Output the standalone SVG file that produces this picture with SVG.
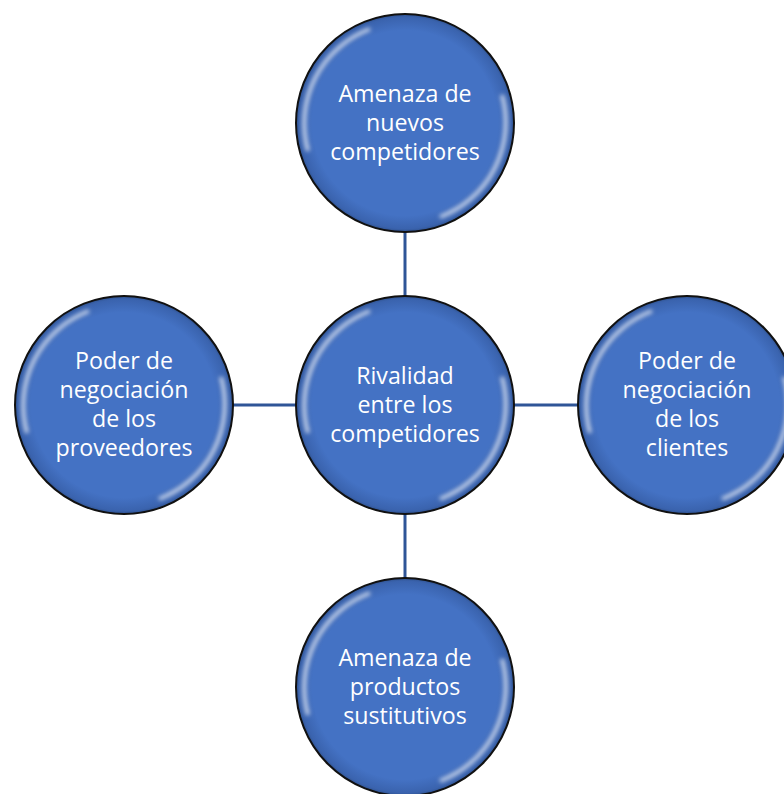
<svg xmlns="http://www.w3.org/2000/svg" width="784" height="794" viewBox="0 0 784 794">
<defs>
<radialGradient id="g" cx="50%" cy="50%" r="50%">
<stop offset="0" stop-color="#4472C4"/>
<stop offset="0.85" stop-color="#4472C4"/>
<stop offset="0.97" stop-color="#3A63AE"/>
<stop offset="1" stop-color="#2F528F"/>
</radialGradient>
<filter id="b" x="-20%" y="-20%" width="140%" height="140%"><feGaussianBlur stdDeviation="2"/></filter>
<g id="bubble">
<circle r="109" fill="url(#g)" stroke="#111" stroke-width="2"/>
<path d="M -97 28 A 101 101 0 0 1 -35 -94" fill="none" stroke="#fff" stroke-opacity="0.7" stroke-width="4" filter="url(#b)"/>
<path d="M 97 -28 A 101 101 0 0 1 35 94" fill="none" stroke="#fff" stroke-opacity="0.7" stroke-width="4" filter="url(#b)"/>
</g>
</defs>
<style>
.t{font-family:"Open Sans","Liberation Sans",sans-serif;font-size:23.2px;fill:#fff;text-anchor:middle}
.c{stroke:#2F5597;stroke-width:3;fill:none}
</style>
<g id="connectors">
<line class="c" x1="405" y1="230" x2="405" y2="298"/>
<line class="c" x1="232" y1="405" x2="298" y2="405"/>
<line class="c" x1="512" y1="405" x2="580" y2="405"/>
<line class="c" x1="405" y1="512" x2="405" y2="580"/>
</g>
<g id="top">
<use href="#bubble" x="405" y="123"/>
<text class="t" x="405" y="102">Amenaza de</text>
<text class="t" x="405" y="131">nuevos</text>
<text class="t" x="405" y="160">competidores</text>
</g>
<g id="center">
<use href="#bubble" x="405" y="405"/>
<text class="t" x="405" y="384">Rivalidad</text>
<text class="t" x="405" y="413">entre los</text>
<text class="t" x="405" y="442">competidores</text>
</g>
<g id="left">
<use href="#bubble" x="124" y="405"/>
<text class="t" x="124" y="369">Poder de</text>
<text class="t" x="124" y="398">negociación</text>
<text class="t" x="124" y="427">de los</text>
<text class="t" x="124" y="456">proveedores</text>
</g>
<g id="right">
<use href="#bubble" x="687" y="405"/>
<text class="t" x="687" y="369">Poder de</text>
<text class="t" x="687" y="398">negociación</text>
<text class="t" x="687" y="427">de los</text>
<text class="t" x="687" y="456">clientes</text>
</g>
<g id="bottom">
<use href="#bubble" x="405" y="687"/>
<text class="t" x="405" y="666">Amenaza de</text>
<text class="t" x="405" y="695">productos</text>
<text class="t" x="405" y="724">sustitutivos</text>
</g>
</svg>
